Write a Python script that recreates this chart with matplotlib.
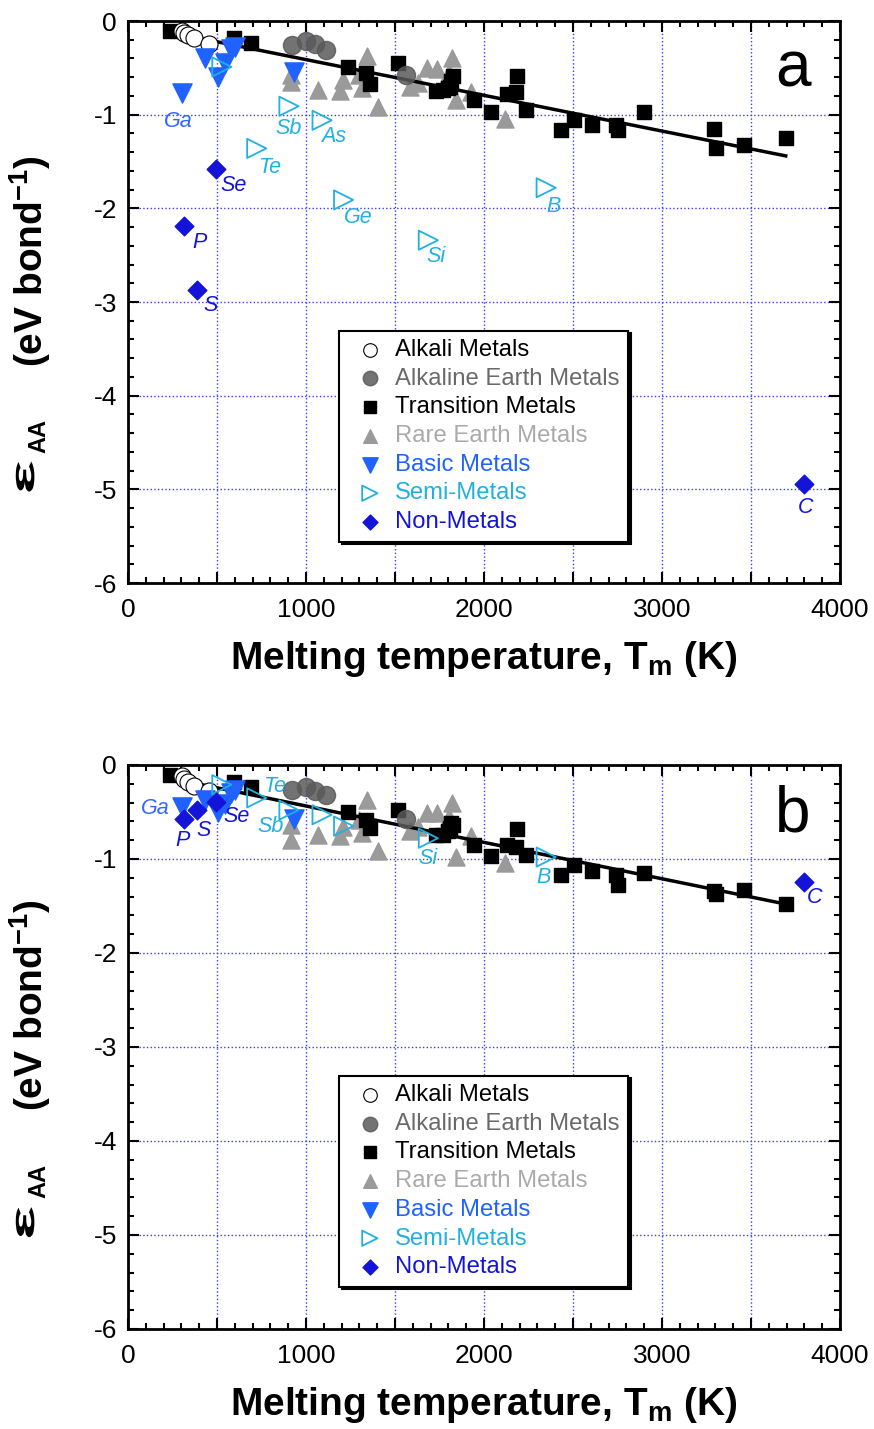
import matplotlib
matplotlib.use("Agg")
import matplotlib.pyplot as plt
from matplotlib.ticker import MultipleLocator, FuncFormatter
from matplotlib.textpath import TextPath
from matplotlib.patches import PathPatch
from matplotlib.font_manager import FontProperties
from matplotlib.transforms import Affine2D

# Melting temperatures (K) for each group of elements
alkali_tm = [302, 312, 336, 371, 454]
alkaline_tm = [923, 1000, 1050, 1115, 1560]
transition_tm = [234, 594, 693, 1235, 1337, 1358, 1519, 1728, 1768, 1799, 1811,
                 1814, 1828, 1941, 2041, 2128, 2183, 2180, 2237, 2430, 2506,
                 2607, 2739, 2750, 2896, 3290, 3306, 3459, 3695]
rare_tm = [913, 917, 1068, 1193, 1208, 1297, 1315, 1345, 1405, 1585, 1629,
           1680, 1734, 1802, 1818, 1841, 1925, 2120]
basic_tm = [303, 430, 505, 544, 577, 601, 933]
semi_tm = [527, 723, 904, 1090, 1211, 1687, 2349]
non_tm = [317, 388, 494, 3800]

basic_names = ['Ga', '', '', '', '', '', '']
semi_names = ['', 'Te', 'Sb', 'As', 'Ge', 'Si', 'B']
non_names = ['P', 'S', 'Se', 'C']

# Bond energies (eV/bond), panel a
alkali_a = [-0.11, -0.13, -0.15, -0.18, -0.25]
alkaline_a = [-0.26, -0.21, -0.25, -0.31, -0.58]
transition_a = [-0.11, -0.18, -0.23, -0.49, -0.55, -0.67, -0.45, -0.75, -0.74,
                -0.72, -0.70, -0.64, -0.59, -0.84, -0.97, -0.78, -0.59, -0.76,
                -0.95, -1.16, -1.06, -1.11, -1.11, -1.16, -0.97, -1.15, -1.36,
                -1.32, -1.25]
rare_a = [-0.65, -0.58, -0.74, -0.75, -0.63, -0.58, -0.72, -0.37, -0.92, -0.70,
          -0.66, -0.50, -0.51, -0.55, -0.40, -0.84, -0.76, -1.05]
basic_a = [-0.77, -0.40, -0.60, -0.45, -0.30, -0.28, -0.54]
semi_a = [-0.49, -1.36, -0.91, -1.06, -1.91, -2.34, -1.78]
non_a = [-2.19, -2.87, -1.58, -4.94]
fit_tm = [234, 3695]
fit_a = [-0.12, -1.44]

# Bond energies (eV/bond), panel b
alkali_b = [-0.12, -0.15, -0.18, -0.22, -0.28]
alkaline_b = [-0.27, -0.23, -0.28, -0.32, -0.57]
transition_b = [-0.11, -0.18, -0.23, -0.50, -0.59, -0.67, -0.48, -0.74, -0.74,
                -0.70, -0.67, -0.62, -0.64, -0.85, -0.97, -0.85, -0.68, -0.87,
                -0.96, -1.17, -1.06, -1.13, -1.17, -1.28, -1.15, -1.34, -1.37,
                -1.33, -1.48]
rare_b = [-0.80, -0.64, -0.74, -0.76, -0.66, -0.59, -0.72, -0.37, -0.92, -0.70,
          -0.66, -0.51, -0.51, -0.55, -0.41, -0.98, -0.76, -1.04]
basic_b = [-0.45, -0.37, -0.50, -0.42, -0.30, -0.27, -0.58]
semi_b = [-0.21, -0.35, -0.48, -0.53, -0.65, -0.78, -0.98]
non_b = [-0.57, -0.48, -0.39, -1.24]
fit_b = [-0.14, -1.48]

# label offsets in pixels, per panel
offsets_a = {'Ga': (-4, -28), 'Se': (18, -16), 'P': (15, -16), 'S': (13, -16),
             'Sb': (0, -22), 'As': (12, -16), 'Te': (13, -19), 'Ge': (15, -18),
             'Si': (8, -16), 'B': (7, -19), 'C': (1, -24)}
offsets_b = {'Ga': (-27, -1), 'P': (-2, -22), 'S': (6, -20), 'Se': (21, -15),
             'Te': (18, 11), 'Sb': (-18, -16), 'Si': (0, -20), 'B': (-3, -20),
             'C': (10, -16)}

BASIC = '#1f62ff'
SEMI = '#22b0e0'
NON = '#1414d8'

plt.rcParams['font.family'] = ['Liberation Sans', 'DejaVu Sans']
plt.rcParams['mathtext.fontset'] = 'custom'
plt.rcParams['mathtext.rm'] = 'Liberation Sans'
plt.rcParams['mathtext.bf'] = 'Liberation Sans:bold'
plt.rcParams['mathtext.it'] = 'Liberation Sans:italic'
plt.rcParams['axes.unicode_minus'] = False


def draw_epsilon(fig, ax, xf, yf):
    # wide bold epsilon drawn as a path, rotated to read upwards
    path = TextPath((0, 0), 'ε', size=34,
                    prop=FontProperties(family='Liberation Sans', weight='bold'))
    bx, by = ax.transAxes.transform((xf, yf))
    tr = Affine2D().scale(2.1, 1.0).rotate_deg(90).translate(bx, by)
    fig.add_artist(PathPatch(path, transform=tr, color='black', lw=0))


def draw_panel(fig, ax, vals, fit, offsets, letter):
    alk, alke, tr, ra, ba, se, no = vals
    h_ra = ax.scatter(rare_tm, ra, marker='^', s=150, color='#9a9a9a', zorder=2)
    ax.plot(fit_tm, fit, color='black', lw=2.5, zorder=2.5)
    h_tr = ax.scatter(transition_tm, tr, marker='s', s=110, color='black', zorder=3)
    h_alke = ax.scatter(alkaline_tm, alke, marker='o', s=170, color='#5a5a5a',
                        alpha=0.85, zorder=3)
    h_alk = ax.scatter(alkali_tm, alk, marker='o', s=150, facecolor='white',
                       edgecolor='black', linewidth=0.8, zorder=3.2)
    h_ba = ax.scatter(basic_tm, ba, marker='v', s=190, color=BASIC, zorder=3.4)
    h_se = ax.scatter(semi_tm, se, marker='>', s=190, facecolor='none',
                      edgecolor=SEMI, linewidth=1.3, zorder=3.5)
    h_no = ax.scatter(non_tm, no, marker='D', s=90, color=NON, zorder=3.6)

    for names, tm, ev, col in [(basic_names, basic_tm, ba, '#3366ff'),
                               (semi_names, semi_tm, se, SEMI),
                               (non_names, non_tm, no, NON)]:
        for name, t, e in zip(names, tm, ev):
            if name in offsets:
                ax.annotate(name, (t, e), xytext=offsets[name],
                            textcoords='offset pixels', ha='center', va='center',
                            style='italic', fontsize=15.5, color=col, zorder=5)

    ax.set_xlim(0, 4000)
    ax.set_ylim(-6, 0)
    ax.xaxis.set_major_locator(MultipleLocator(500))
    ax.xaxis.set_minor_locator(MultipleLocator(100))
    ax.xaxis.set_major_formatter(
        FuncFormatter(lambda v, p: f'{v:.0f}' if v % 1000 == 0 else ''))
    ax.yaxis.set_major_locator(MultipleLocator(1))
    ax.yaxis.set_minor_locator(MultipleLocator(0.2))
    ax.yaxis.set_major_formatter(FuncFormatter(lambda v, p: f'{v:.0f}'))
    ax.tick_params(which='both', direction='in', top=True, right=True,
                   width=1.5, labelsize=19)
    ax.tick_params(which='major', length=8, pad=8)
    ax.tick_params(axis='x', which='major', pad=11)
    ax.tick_params(which='minor', length=4)
    for sp in ax.spines.values():
        sp.set_linewidth(2)
    ax.grid(True, which='major', color='#3a3aff', linestyle=':', linewidth=1)
    ax.set_axisbelow(True)

    ax.set_xlabel('Melting temperature, T$_{\\mathbf{m}}$ (K)',
                  fontsize=28, fontweight='bold', labelpad=12)

    # y label: epsilon, AA subscript, then the units
    draw_epsilon(fig, ax, -0.132, 0.158)
    lab = dict(transform=ax.transAxes, rotation=90, rotation_mode='anchor',
               fontweight='bold', va='baseline', clip_on=False)
    ax.text(-0.1166, 0.232, 'AA', fontsize=17, ha='left', **lab)
    ax.text(-0.1194, 0.761, '(eV bond$^{\\mathbf{-1}}$)', fontsize=28,
            ha='right', **lab)

    ax.text(0.934, 0.913, letter, transform=ax.transAxes, fontsize=46,
            ha='center', va='center')

    leg = ax.legend([h_alk, h_alke, h_tr, h_ra, h_ba, h_se, h_no],
                    ['Alkali Metals', 'Alkaline Earth Metals', 'Transition Metals',
                     'Rare Earth Metals', 'Basic Metals', 'Semi-Metals', 'Non-Metals'],
                    loc='upper left', bbox_to_anchor=(0.296, 0.449),
                    fancybox=False, framealpha=1, edgecolor='black',
                    shadow={'color': 'black', 'alpha': 1},
                    labelcolor=['black', '#6a6a6a', 'black', '#aaaaaa', BASIC,
                                SEMI, NON],
                    fontsize=17.2, markerscale=0.8, handlelength=1.9,
                    handletextpad=0.1, labelspacing=0.28, borderpad=0.35,
                    borderaxespad=0)
    leg.get_frame().set_linewidth(1.5)


fig = plt.figure(figsize=(8.74, 14.29), dpi=100)
ax_a = fig.add_axes([0.1465, 0.592, 0.8146, 0.3933])
ax_b = fig.add_axes([0.1465, 0.070, 0.8146, 0.3947])

draw_panel(fig, ax_a,
           [alkali_a, alkaline_a, transition_a, rare_a, basic_a, semi_a, non_a],
           fit_a, offsets_a, 'a')
draw_panel(fig, ax_b,
           [alkali_b, alkaline_b, transition_b, rare_b, basic_b, semi_b, non_b],
           fit_b, offsets_b, 'b')

fig.savefig('out.png', dpi=100)
